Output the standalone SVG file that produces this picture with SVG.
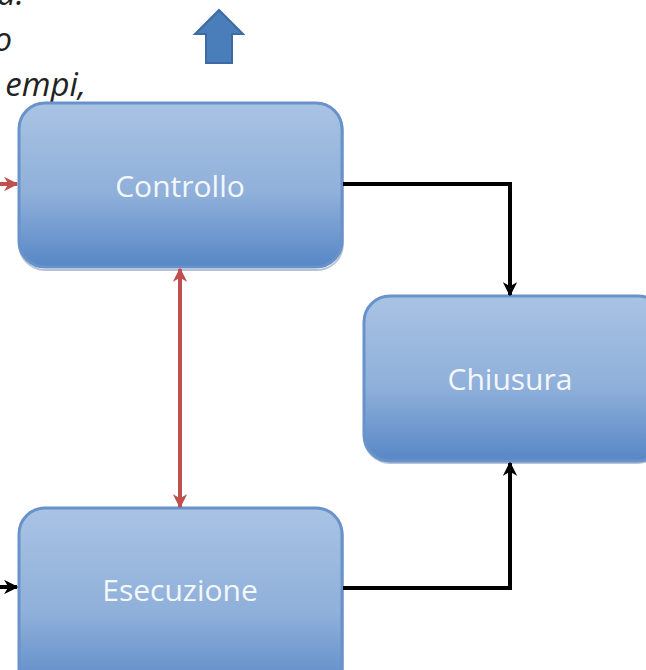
<svg xmlns="http://www.w3.org/2000/svg" width="646" height="670" viewBox="0 0 646 670">
<defs>
<linearGradient id="g" x1="0" y1="0" x2="0" y2="1">
<stop offset="0" stop-color="#a9c3e3"/>
<stop offset="0.55" stop-color="#8fb0da"/>
<stop offset="1" stop-color="#5787c6"/>
</linearGradient>
<marker id="ak" viewBox="0 0 10 10" refX="9" refY="5" markerWidth="3.6" markerHeight="3.6" orient="auto-start-reverse" markerUnits="strokeWidth">
<path d="M0,0 L10,5 L0,10 L3,5 Z" fill="#000"/>
</marker>
<marker id="ar" viewBox="0 0 10 10" refX="9" refY="5" markerWidth="3.6" markerHeight="3.6" orient="auto-start-reverse" markerUnits="strokeWidth">
<path d="M0,0 L10,5 L0,10 L3,5 Z" fill="#c0504d"/>
</marker>
</defs>
<style>
.box{fill:url(#g);stroke:#6892c9;stroke-width:3}
.sh{fill:none;stroke:#b8c4d4;stroke-width:2}
.lbl{font-family:"Open Sans","DejaVu Sans",sans-serif;font-size:30px;fill:#ffffff;text-anchor:middle;opacity:0.9}
.txt{font-family:"Open Sans","DejaVu Sans",sans-serif;font-style:italic;font-size:33px;fill:#222}
.k{fill:none;stroke:#000;stroke-width:4;marker-end:url(#ak)}
.r{fill:none;stroke:#c0504d;stroke-width:4}
</style>
<g id="text">
<text class="txt" x="24" y="5" text-anchor="end">a.</text>
<text class="txt" x="12" y="51" text-anchor="end">o</text>
<text class="txt" x="86" y="96" text-anchor="end">empi,</text>
</g>
<g id="uparrow">
<path d="M219,10 L243,34 L232,34 L232,63 L206,63 L206,34 L195,34 Z" fill="#4a7ebb" stroke="#3d6aa2" stroke-width="2"/>
</g>
<g id="controllo">
<rect class="sh" x="19" y="105" width="324" height="165" rx="26"/>
<rect class="box" x="19" y="103" width="323" height="164" rx="26"/>
<text class="lbl" x="180" y="197">Controllo</text>
</g>
<g id="chiusura">
<rect class="sh" x="364" y="298" width="300" height="165" rx="26"/>
<rect class="box" x="364" y="296" width="300" height="165" rx="26"/>
<text class="lbl" x="510" y="390">Chiusura</text>
</g>
<g id="esecuzione">
<rect class="sh" x="19" y="510" width="324" height="190" rx="26"/>
<rect class="box" x="19" y="508" width="323" height="190" rx="26"/>
<text class="lbl" x="180" y="601">Esecuzione</text>
</g>
<g id="connectors">
<path class="k" d="M343,184 L510,184 L510,295"/>
<path class="k" d="M343,588 L510,588 L510,463"/>
<path class="r" d="M180,269 L180,507" marker-start="url(#ar)" marker-end="url(#ar)"/>
<path class="r" d="M0,184 L17,184" marker-end="url(#ar)"/>
<path class="k" d="M0,587 L17,587"/>
</g>
</svg>
